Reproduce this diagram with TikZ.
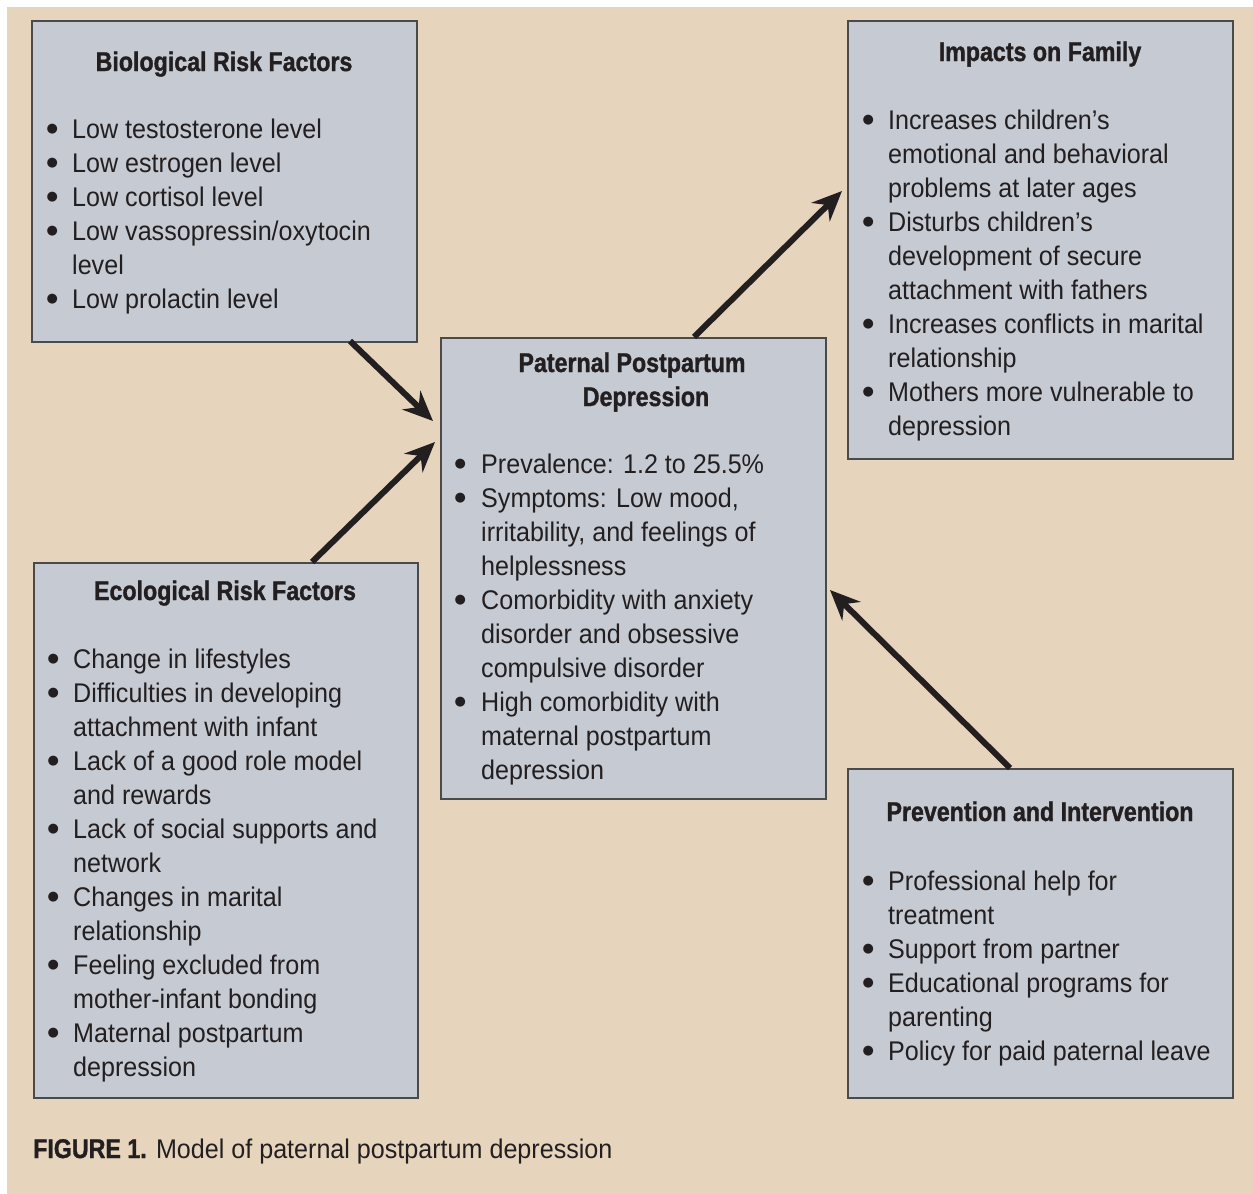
\documentclass[tikz,border=0pt]{standalone}
\usepackage{fontspec}
\setmainfont{Liberation Sans}[FakeStretch=0.93]
\newfontfamily\titlef{Liberation Sans}[FakeStretch=0.86, FakeBold=1.2]
\newfontfamily\dvf{DejaVu Sans}
\usetikzlibrary{arrows.meta}
\definecolor{bg}{HTML}{E6D5BC}
\definecolor{boxfill}{HTML}{C6CAD3}
\definecolor{boxline}{HTML}{4A4A4A}
\definecolor{txt}{HTML}{231F20}
\newcommand{\bigbul}{\hspace*{-1.5pt}\raisebox{6pt}{\dvf\fontsize{13}{13}\selectfont ●}}
\newcommand{\bl}{\makebox[24pt][l]{\bigbul}}
\newcommand{\bll}{\makebox[25pt][l]{\bigbul}}
\newcommand{\cl}{\hspace*{24pt}}
\newcommand{\cll}{\hspace*{25pt}}
\begin{document}
\begin{tikzpicture}[x=1pt,y=-1pt,
  box/.style={draw=boxline, line width=1.6pt, fill=boxfill, rectangle, inner sep=0pt, anchor=north west},
  body/.style={anchor=north west, inner sep=0pt, align=left, text=txt, font=\fontsize{27}{34}\selectfont},
  title/.style={anchor=base, inner sep=0pt, text=txt, font=\titlef\bfseries\fontsize{27}{34}\selectfont},
  arr/.style={draw=txt, line width=6pt, -{Stealth[length=30pt,width=26pt,inset=10pt]}}]
\useasboundingbox (0,0) rectangle (1253,1194);
\fill[white] (0,0) rectangle (1253,1194);
\fill[bg] (7,7) rectangle (1253,1194);
% boxes
\node[box, minimum width=385pt, minimum height=321pt] (bio) at (31,20) {};
\node[box, minimum width=385pt, minimum height=461pt] (ppd) at (440,337) {};
\node[box, minimum width=385pt, minimum height=438pt] (imp) at (847,20) {};
\node[box, minimum width=384pt, minimum height=535pt] (eco) at (33,562) {};
\node[box, minimum width=385pt, minimum height=329pt] (prev) at (847,768) {};
% titles
\node[title] (biot) at (224,71) {Biological Risk Factors};
\node[title] (impt) at (1040,61) {Impacts on Family};
\node[title] (ppdt1) at (632,372) {Paternal Postpartum};
\node[title] (ppdt2) at (646,406) {Depression};
\node[title] (ecot) at (225,600) {Ecological Risk Factors};
\node[title] (prevt) at (1040,821) {Prevention and Intervention};
% lists
\node[body] (biol) at (48,119) {\bl Low testosterone level\\ \bl Low estrogen level\\ \bl Low cortisol level\\ \bl Low vassopressin/oxytocin\\ \cl level\\ \bl Low prolactin level};
\node[body] (impl) at (864,110) {\bl Increases children’s\\ \cl emotional and behavioral\\ \cl problems at later ages\\ \bl Disturbs children’s\\ \cl development of secure\\ \cl attachment with fathers\\ \bl Increases conflicts in marital\\ \cl relationship\\ \bl Mothers more vulnerable to\\ \cl depression};
\node[body] (ppdl) at (456,454) {\bll Prevalence: 1.2 to 25.5\%\\ \bll Symptoms: Low mood,\\ \cll irritability, and feelings of\\ \cll helplessness\\ \bll Comorbidity with anxiety\\ \cll disorder and obsessive\\ \cll compulsive disorder\\ \bll High comorbidity with\\ \cll maternal postpartum\\ \cll depression};
\node[body] (ecol) at (49,649) {\bl Change in lifestyles\\ \bl Difficulties in developing\\ \cl attachment with infant\\ \bl Lack of a good role model\\ \cl and rewards\\ \bl Lack of social supports and\\ \cl network\\ \bl Changes in marital\\ \cl relationship\\ \bl Feeling excluded from\\ \cl mother-infant bonding\\ \bl Maternal postpartum\\ \cl depression};
\node[body] (prevl) at (864,871) {\bl Professional help for\\ \cl treatment\\ \bl Support from partner\\ \bl Educational programs for\\ \cl parenting\\ \bl Policy for paid paternal leave};
% caption
\node[anchor=base west, inner sep=0pt, text=txt, font=\fontsize{27}{34}\selectfont] (cap) at (33,1158) {{\titlef\bfseries FIGURE 1.} Model of paternal postpartum depression};
% arrow endpoints
\coordinate (a1s) at (350,341);
\coordinate (a1e) at (433,421);
\coordinate (a2s) at (312,562);
\coordinate (a2e) at (435,442);
\coordinate (a3s) at (694,337);
\coordinate (a3e) at (842,191);
\coordinate (a4s) at (1010,768);
\coordinate (a4e) at (830,590);
\draw[arr] (a1s) -- (a1e);
\draw[arr] (a2s) -- (a2e);
\draw[arr] (a3s) -- (a3e);
\draw[arr] (a4s) -- (a4e);
\end{tikzpicture}
\end{document}
